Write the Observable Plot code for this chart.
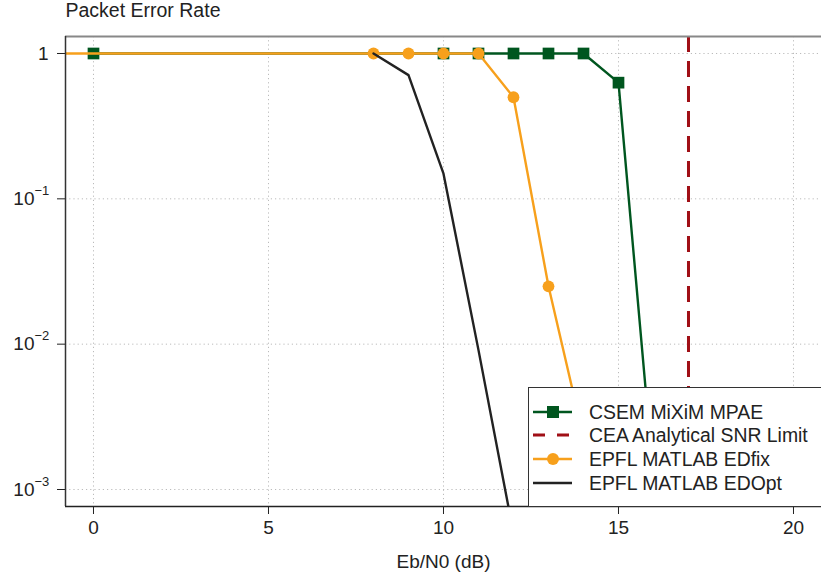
<!DOCTYPE html>
<html><head><meta charset="utf-8">
<script src="https://cdn.jsdelivr.net/npm/d3@7"></script>
<script src="https://cdn.jsdelivr.net/npm/@observablehq/plot@0.6"></script>
<style>
body{margin:0;background:#fff;overflow:hidden;font-family:"Liberation Sans",Arial,sans-serif}
#wrap{position:relative;width:821px;height:577px;overflow:hidden}
#wrap > svg{display:block;max-width:none !important;width:840px !important;height:577px !important}
#legend{position:absolute;left:528px;top:387px;width:320px;height:118px;border:1px solid #333;background:#fff;box-sizing:content-box}
#legend svg{display:block}
</style></head><body><div id="wrap"></div>
<script>
const xDomain = [-0.8, 21.343];
const yDomain = [7.64e-4, 1.309];
const xTicks = [0, 5, 10, 15, 20];
const yTicks = [1, 0.1, 0.01, 0.001];
const yTickBase = ["1", "10", "10", "10"];
const yTickExp = ["", "\u22121", "\u22122", "\u22123"];
const csemX = [0, 10, 11, 12, 13, 14, 15, 16];
const csemY = [1, 1, 1, 1, 1, 1, 0.63, 0.0012];
const ceaX = [17];
const edfixX = [-5, 8, 9, 10, 11, 12, 13, 14];
const edfixY = [1, 1, 1, 1, 1, 0.5, 0.025, 0.0023];
const edoptX = [8, 9, 10, 11, 12];
const edoptY = [1, 0.71, 0.149, 0.0091, 0.0005];
const seriesNames = ["CSEM MiXiM MPAE", "CEA Analytical SNR Limit", "EPFL MATLAB EDfix", "EPFL MATLAB EDOpt"];
const colors = ["#00561f", "#a00f16", "#f7a01c", "#222222"];
const titleText = "Packet Error Rate";
const xLabel = "Eb/N0 (dB)";

const csem = csemX.map((x, i) => ({x, y: csemY[i]}));
const edfix = edfixX.map((x, i) => ({x, y: edfixY[i]}));
const edopt = edoptX.map((x, i) => ({x, y: edoptY[i]}));
const yt = yTicks.map((v, i) => ({v, base: yTickBase[i], exp: yTickExp[i]}));
const font = "'Liberation Sans', Arial, sans-serif";

const chart = Plot.plot({
  width: 840, height: 577,
  marginLeft: 65, marginRight: 0, marginTop: 36, marginBottom: 71,
  style: {fontFamily: font, fontSize: "19px", color: "#222", background: "#fff", maxWidth: "none"},
  x: {domain: xDomain},
  y: {type: "log", domain: yDomain},
  marks: [
    Plot.gridX(xTicks, {stroke: "#bbb", strokeOpacity: 1, strokeDasharray: "1.2,3"}),
    Plot.gridY(yTicks, {stroke: "#bbb", strokeOpacity: 1, strokeDasharray: "1.2,3"}),
    Plot.axisX(xTicks, {tickSize: 8, tickPadding: 6, fontSize: 19, stroke: "#222", label: null}),
    Plot.axisY(yTicks, {tickSize: 8, tickFormat: () => "", label: null, stroke: "#222"}),
    Plot.text(yt.filter(d => !d.exp), {y: "v", frameAnchor: "left", text: "base", textAnchor: "end", dx: -17, fontSize: 19, fill: "#222"}),
    Plot.text(yt.filter(d => d.exp), {y: "v", frameAnchor: "left", text: "base", textAnchor: "end", dx: -31, fontSize: 19, fill: "#222"}),
    Plot.text(yt.filter(d => d.exp), {y: "v", frameAnchor: "left", text: "exp", textAnchor: "start", dx: -31, dy: -8, fontSize: 13, fill: "#222"}),
    Plot.lineY(csem, {x: "x", y: "y", stroke: colors[0], strokeWidth: 2.4, clip: true}),
    Plot.dot(csem, {x: "x", y: "y", symbol: "square", r: 6.6, fill: colors[0], stroke: "none", clip: true}),
    Plot.ruleX(ceaX, {stroke: colors[1], strokeWidth: 3, strokeDasharray: "16,9", clip: true}),
    Plot.lineY(edfix, {x: "x", y: "y", stroke: colors[2], strokeWidth: 2.4, clip: true}),
    Plot.dot(edfix, {x: "x", y: "y", r: 5.9, fill: colors[2], stroke: "none", clip: true}),
    Plot.lineY(edopt, {x: "x", y: "y", stroke: colors[3], strokeWidth: 2.4, clip: true}),
    Plot.ruleY([yDomain[1]], {stroke: "#888", strokeWidth: 2}),
    Plot.ruleX([xDomain[0]], {stroke: "#333", strokeWidth: 1.5}),
    Plot.ruleY([yDomain[0]], {stroke: "#222", strokeWidth: 1.5}),
    Plot.text([titleText], {frameAnchor: "top-left", dy: -33, textAnchor: "start", fontSize: 19.5, fill: "#222"}),
    Plot.text([xLabel], {x: [10], frameAnchor: "bottom", dy: 61, fontSize: 19, fill: "#222"})
  ]
});
document.getElementById("wrap").appendChild(chart);

// legend overlay
const leg = document.createElement("div");
leg.id = "legend";
const ns = "http://www.w3.org/2000/svg";
const ls = document.createElementNS(ns, "svg");
ls.setAttribute("width", 320); ls.setAttribute("height", 118);
const rowY = [24, 47, 71, 95];
seriesNames.forEach((name, i) => {
  const y = rowY[i];
  const line = document.createElementNS(ns, "line");
  line.setAttribute("x1", 4); line.setAttribute("x2", 43);
  line.setAttribute("y1", y); line.setAttribute("y2", y);
  line.setAttribute("stroke", colors[i]);
  line.setAttribute("stroke-width", i === 1 ? 3 : 2.4);
  if (i === 1) line.setAttribute("stroke-dasharray", "12,12");
  ls.appendChild(line);
  if (i === 0) {
    const r = document.createElementNS(ns, "rect");
    r.setAttribute("x", 18); r.setAttribute("y", y - 6); r.setAttribute("width", 12); r.setAttribute("height", 12);
    r.setAttribute("fill", colors[i]); ls.appendChild(r);
  }
  if (i === 2) {
    const c = document.createElementNS(ns, "circle");
    c.setAttribute("cx", 24); c.setAttribute("cy", y); c.setAttribute("r", 6);
    c.setAttribute("fill", colors[i]); ls.appendChild(c);
  }
  const t = document.createElementNS(ns, "text");
  t.setAttribute("x", 60); t.setAttribute("y", y); t.setAttribute("dy", "0.35em");
  t.setAttribute("font-size", 19.4); t.setAttribute("fill", "#222");
  t.setAttribute("font-family", font);
  t.textContent = name;
  ls.appendChild(t);
});
leg.appendChild(ls);
document.getElementById("wrap").appendChild(leg);
</script>
</body></html>
